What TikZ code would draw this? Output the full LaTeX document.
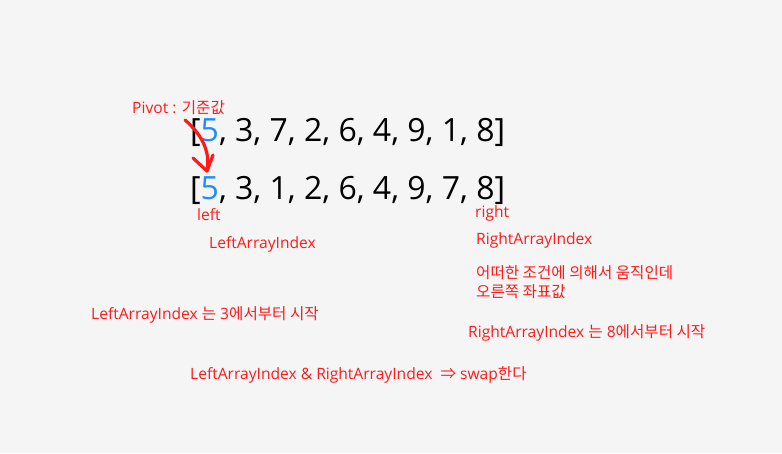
\documentclass[tikz,border=0pt]{standalone}
\usepackage{fontspec}
\setmainfont{Open Sans}
\newfontfamily\kr{Noto Sans CJK KR}
\definecolor{bg}{HTML}{F5F5F5}
\definecolor{myred}{HTML}{FF1A1A}
\definecolor{myblue}{HTML}{1E8CFF}
\begin{document}
\begin{tikzpicture}[x=1pt,y=-1pt,
  lbl/.style={inner sep=0pt,anchor=base west,text=myred,font=\fontsize{15.6}{18}\selectfont},
  krl/.style={lbl,font=\kr\fontsize{15.6}{18}\selectfont},
  arr/.style={inner sep=0pt,anchor=base west,text=black,font=\fontsize{32}{36}\selectfont}]
\fill[bg] (0,0) rectangle (782,453);
\useasboundingbox (0,0) rectangle (782,453);
\node[lbl] (pivot) at (132,113) {Pivot : {\kr 기준값}};
\node[arr] (a1) at (190,141) {[\textcolor{myblue}{5}, 3, 7, 2, 6, 4, 9, 1, 8]};
\node[arr] (a2) at (190,199) {[\textcolor{myblue}{5}, 3, 1, 2, 6, 4, 9, 7, 8]};
\coordinate (s) at (185,120);
\coordinate (e) at (207,171);
\draw[myred,line width=3.2pt,line cap=round,line join=round] (s) .. controls (200,133) and (211,150) .. (e);
\draw[myred,line width=3.2pt,line cap=round,line join=round] (193,158) -- (e) -- (213,155);
\node[lbl] (left) at (197,220) {left};
\node[lbl] (right) at (475,217) {right};
\node[lbl] (lai) at (209,248) {LeftArrayIndex};
\node[lbl] (rai) at (476,244) {RightArrayIndex};
\node[krl] (k1) at (476,278) {어떠한 조건에 의해서 움직인데};
\node[krl] (k2) at (476,297) {오른쪽 좌표값};
\node[lbl] (l3) at (91,319) {LeftArrayIndex {\kr 는} 3{\kr 에서부터 시작}};
\node[lbl] (r8) at (468,337) {RightArrayIndex {\kr 는} 8{\kr 에서부터 시작}};
\node[lbl] (sw) at (190,379) {LeftArrayIndex \& RightArrayIndex \ {\kr ⇒} swap{\kr 한다}};
\end{tikzpicture}
\end{document}
